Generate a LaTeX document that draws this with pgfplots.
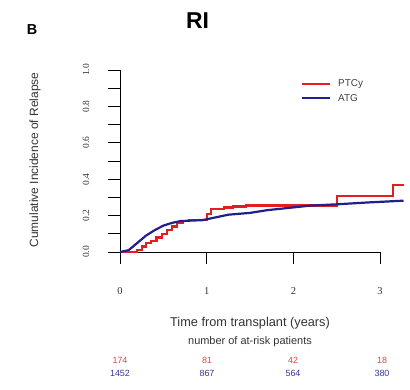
\documentclass[border=0pt]{standalone}
\usepackage{pgfplots}
\pgfplotsset{compat=1.18}
\usepackage{fontspec}
\setmainfont{Liberation Sans}
\newfontfamily\serifnum{Liberation Serif}
\definecolor{ptcy}{RGB}{228,30,30}
\definecolor{atg}{RGB}{32,32,140}
\definecolor{ptcytxt}{RGB}{220,70,70}
\definecolor{atgtxt}{RGB}{55,55,150}
\begin{document}
\begin{tikzpicture}
\begin{axis}[
  at={(0,0)}, anchor=south west,
  x=86.7bp, y=182bp,
  xmin=0, xmax=3.3, ymin=0, ymax=1,
  enlargelimits=false, clip=false,
  axis lines*=left,
  x axis line style={draw=none},
  y axis line style={line width=0.9bp},
  every tick/.style={black, line width=0.9bp},
  tick align=outside,
  major tick length=12bp, minor tick length=12bp,
  xtick={0,1,2,3},
  ytick={0,0.2,0.4,0.6,0.8,1.0},
  minor ytick={0.1,0.3,0.5,0.7,0.9},
  /pgf/number format/assume math mode=true,
  yticklabel={\pgfmathprintnumber[fixed,fixed zerofill,precision=1]{\tick}},
  xticklabel style={font=\serifnum\fontsize{10.5}{11}\selectfont, color=black!80, yshift=-20bp},
  yticklabel style={font=\serifnum\fontsize{9.5}{10}\selectfont, color=black!80, rotate=90, anchor=center, yshift=22bp},
]
% x axis line covers 0 to 3 years only
\draw[line width=0.9bp] (axis cs:0,0) -- (axis cs:3,0);
% PTCy: step function
\addplot[const plot, color=ptcy, line width=2.2bp] coordinates {
  (0,0) (0.2,0.01) (0.25,0.03) (0.3,0.05) (0.36,0.06) (0.42,0.08) (0.48,0.10)
  (0.54,0.12) (0.6,0.14) (0.66,0.16) (0.72,0.17) (0.8,0.175) (1.0,0.21)
  (1.05,0.235) (1.2,0.245) (1.3,0.25) (1.45,0.256) (2.5,0.306) (3.15,0.366) (3.27,0.366)
};
% ATG
\addplot[color=atg, line width=2.2bp] coordinates {
  (0,0) (0.1,0.01) (0.2,0.05) (0.3,0.09) (0.4,0.12) (0.5,0.145) (0.6,0.16)
  (0.7,0.17) (0.8,0.172) (0.95,0.175) (1.1,0.19) (1.25,0.205) (1.5,0.215)
  (1.7,0.23) (2.0,0.245) (2.2,0.255) (2.5,0.262) (2.85,0.272) (3.27,0.282)
};
\end{axis}
% legend
\draw[ptcy, line width=2.2bp] (182bp,168bp) -- (210bp,168bp);
\draw[atg, line width=2.2bp] (182bp,154bp) -- (210bp,154bp);
\node[anchor=west, font=\fontsize{10}{11}\selectfont, text=black!75, inner sep=0pt] at (218bp,168bp) {PTCy};
\node[anchor=west, font=\fontsize{10}{11}\selectfont, text=black!75, inner sep=0pt] at (218bp,154bp) {ATG};
% titles and labels
\node[font=\bfseries\fontsize{23}{24}\selectfont] at (77.5bp,231bp) {RI};
\node[font=\bfseries\fontsize{14.5}{15}\selectfont] at (-88bp,222bp) {B};
\node[rotate=90, font=\fontsize{12}{13}\selectfont, text=black!80] at (-85bp,92bp) {Cumulative Incidence of Relapse};
\node[font=\fontsize{12.8}{14}\selectfont, text=black!80] at (130bp,-71bp) {Time from transplant (years)};
\node[font=\fontsize{11}{12}\selectfont, text=black!80] at (130bp,-90bp) {number of at-risk patients};
% at-risk counts
\foreach \xx/\n in {0/174, 87/81, 173/42, 262/18}
  \node[font=\fontsize{9}{10}\selectfont, text=ptcytxt] at (\xx bp,-108bp) {\n};
\foreach \xx/\n in {0/1452, 87/867, 173/564, 262/380}
  \node[font=\fontsize{9}{10}\selectfont, text=atgtxt] at (\xx bp,-121bp) {\n};
\pgfresetboundingbox
\useasboundingbox (-120bp,-138bp) rectangle (290bp,252bp);
\end{tikzpicture}
\end{document}
